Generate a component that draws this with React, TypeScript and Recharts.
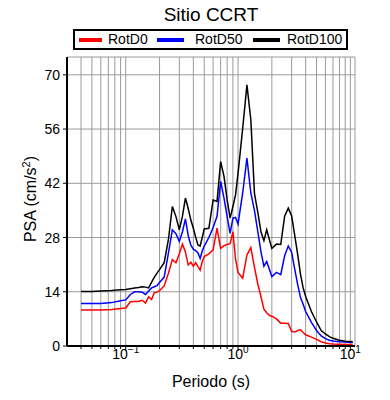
import React from "react";
import { LineChart, Line, XAxis, YAxis, CartesianGrid, Legend } from "recharts";

const FONT = '"Liberation Sans", Arial, Helvetica, sans-serif';

// Periodo (s)
const periods = [
  0.04, 0.05, 0.06, 0.075, 0.09, 0.1, 0.11, 0.12, 0.13, 0.14,
  0.15, 0.16, 0.17, 0.18, 0.19, 0.2, 0.22, 0.24, 0.26, 0.28,
  0.3, 0.32, 0.34, 0.36, 0.38, 0.4, 0.42, 0.44, 0.46, 0.48,
  0.5, 0.55, 0.6, 0.65, 0.7, 0.75, 0.8, 0.85, 0.9, 0.95,
  1.0, 1.1, 1.2, 1.3, 1.4, 1.5, 1.6, 1.7, 1.8, 1.9,
  2.0, 2.2, 2.4, 2.6, 2.8, 3.0, 3.2, 3.4, 3.6, 3.8,
  4.0, 4.5, 5.0, 5.5, 6.0, 6.5, 7.0, 8.0, 9.0, 10.5,
];

// PSA (cm/s2)
const rotD0 = [
  9.3, 9.3, 9.3, 9.4, 9.7, 9.8, 11.4, 11.5, 11.5, 11.8,
  11.1, 12.7, 12.0, 13.8, 13.9, 14.3, 15.5, 18.8, 22.3, 21.5,
  23.8, 26.3, 24.3, 20.9, 21.6, 20.6, 21.5, 20.5, 19.6, 21.8,
  23.1, 23.8, 24.8, 30.4, 25.2, 25.9, 26.2, 26.4, 29.5, 22.5,
  19.0, 17.5, 23.5, 25.4, 20.3, 16.0, 12.7, 9.5, 8.6, 7.9,
  7.7, 7.0, 5.9, 5.9, 5.8, 3.8, 3.6, 4.0, 4.2, 3.5,
  2.9, 2.3, 1.7, 1.1, 0.8, 0.6, 0.5, 0.45, 0.4, 0.4,
];

const rotD50 = [
  11.0, 11.0, 11.0, 11.2, 11.7, 11.9, 13.3, 14.0, 14.0, 13.9,
  13.3, 14.2, 15.0, 15.3, 15.6, 16.4, 17.8, 24.0, 30.0, 29.0,
  27.0, 29.5, 32.8, 28.5, 26.0, 25.0, 24.6, 24.0, 22.6, 24.5,
  25.8, 28.0, 30.6, 33.5, 42.5, 38.2, 33.4, 29.1, 33.0, 33.2,
  31.5, 39.5, 48.5, 39.5, 35.0, 29.5, 24.3, 20.6, 21.8, 19.8,
  17.9, 19.0, 18.4, 23.3, 25.8, 24.2, 19.8, 15.8, 12.5, 10.8,
  8.9, 6.1, 4.0, 2.6, 1.9, 1.5, 1.3, 1.1, 1.0, 0.9,
];

const rotD100 = [
  14.1, 14.1, 14.2, 14.3, 14.5, 14.6, 14.8, 15.0, 15.1, 15.3,
  15.2, 15.0, 16.5, 17.8, 18.8, 19.7, 21.5, 27.5, 36.0, 33.4,
  30.0, 33.5, 38.2, 35.5, 32.5, 30.4, 28.0, 26.1, 25.8, 28.0,
  30.2, 30.4, 37.7, 37.3, 47.6, 43.8, 37.7, 33.0, 36.0, 39.0,
  44.5, 56.2, 67.4, 58.4, 39.4, 34.5, 29.5, 27.2, 30.0, 27.5,
  25.2, 26.3, 26.2, 33.5, 35.6, 33.6, 28.5, 23.5, 18.5, 15.0,
  12.8, 8.9, 6.2, 4.0, 3.1, 2.4, 2.0, 1.5, 1.2, 1.1,
];

const xTicks = [
  0.04, 0.05, 0.06, 0.07, 0.08, 0.09,
  0.1, 0.2, 0.3, 0.4, 0.5, 0.6, 0.7, 0.8, 0.9,
  1, 2, 3, 4, 5, 6, 7, 8, 9, 10,
];
const yTicks = [0, 14, 28, 42, 56, 70];

const seriesKeys = ["rotD0", "rotD50", "rotD100"];
const seriesNames = ["RotD0", "RotD50", "RotD100"];
const seriesColors = ["#ff0000", "#0000ff", "#000000"];

const data = periods.map((p, i) => ({
  period: p,
  rotD0: rotD0[i],
  rotD50: rotD50[i],
  rotD100: rotD100[i],
}));

const isDecade = (v: number) => Math.abs(Math.log10(v) - Math.round(Math.log10(v))) < 1e-6;

function XTick(props: any) {
  const { x, y, payload, top } = props;
  const v = payload.value as number;
  const major = isDecade(v);
  const len = major ? 5 : 3;
  const dir = top ? -1 : 1;
  const exp = Math.round(Math.log10(v));
  return (
    <g>
      <line x1={x} x2={x} y1={y} y2={y + dir * len} stroke="#000" strokeWidth={1} />
      {!top && major && (
        <text x={x} y={y + 13} textAnchor="middle" fontFamily={FONT} fontSize={14} fill="#000">
          10
          <tspan dy={-6} fontSize={10}>
            {exp < 0 ? `\u2212${-exp}` : `${exp}`}
          </tspan>
        </text>
      )}
    </g>
  );
}

function YTick(props: any) {
  const { x, y, payload, right } = props;
  const dir = right ? 1 : -1;
  return (
    <g>
      <line x1={x} x2={x + dir * 4} y1={y} y2={y} stroke="#000" strokeWidth={1} />
      {!right && (
        <text x={x - 7} y={y + 5} textAnchor="end" fontFamily={FONT} fontSize={14} fill="#000">
          {payload.value}
        </text>
      )}
    </g>
  );
}

const swatchLeft = [4, 82, 178];
const swatchWidth = [23, 27, 27];
const textLeft = [33, 120, 212];

function LegendBox() {
  return (
    <div
      style={{
        position: "relative",
        width: 271,
        height: 17,
        border: "2px solid #000",
        background: "#fff",
        fontFamily: FONT,
        fontSize: 14,
        color: "#000",
      }}
    >
      {seriesNames.map((n, i) => (
        <React.Fragment key={n}>
          <span
            style={{
              position: "absolute",
              left: swatchLeft[i],
              top: 7,
              width: swatchWidth[i],
              height: 4,
              background: seriesColors[i],
            }}
          />
          <span style={{ position: "absolute", left: textLeft[i], top: 0, lineHeight: "17px" }}>{n}</span>
        </React.Fragment>
      ))}
    </div>
  );
}

export default function App() {
  const axisLine = { stroke: "#000", strokeWidth: 2 };
  return (
    <div style={{ position: "absolute", left: 0, top: 0, background: "#fff" }}>
      <LineChart width={390} height={400} data={data} margin={{ top: 57, right: 35, bottom: 4, left: 7 }}>
        <CartesianGrid xAxisId="b" yAxisId="l" stroke="#9a9a9a" strokeWidth={1} />
        <XAxis
          xAxisId="b"
          dataKey="period"
          type="number"
          scale="log"
          domain={[0.03, 11]}
          allowDataOverflow
          ticks={xTicks}
          interval={0}
          height={50}
          tickSize={0}
          tickMargin={0}
          tickLine={false}
          axisLine={axisLine}
          tick={(p: any) => <XTick {...p} />}
        />
        <XAxis
          xAxisId="t"
          orientation="top"
          dataKey="period"
          type="number"
          scale="log"
          domain={[0.03, 11]}
          allowDataOverflow
          ticks={xTicks}
          interval={0}
          height={0}
          tickSize={0}
          tickMargin={0}
          tickLine={false}
          axisLine={axisLine}
          tick={(p: any) => <XTick {...p} top />}
        />
        <YAxis
          yAxisId="l"
          type="number"
          domain={[0, 74.6]}
          allowDataOverflow
          ticks={yTicks}
          interval={0}
          width={60}
          tickSize={0}
          tickMargin={0}
          tickLine={false}
          axisLine={axisLine}
          tick={(p: any) => <YTick {...p} />}
        />
        <YAxis
          yAxisId="r"
          orientation="right"
          type="number"
          domain={[0, 74.6]}
          allowDataOverflow
          ticks={yTicks}
          interval={0}
          width={0}
          tickSize={0}
          tickMargin={0}
          tickLine={false}
          axisLine={axisLine}
          tick={(p: any) => <YTick {...p} right />}
        />
        <Legend
          verticalAlign="middle"
          layout="horizontal"
          content={() => <LegendBox />}
          wrapperStyle={{ top: 29, left: 73, width: 275, height: 21 }}
        />
        {seriesKeys.map((k, i) => (
          <Line
            key={k}
            xAxisId="b"
            yAxisId="l"
            type="linear"
            dataKey={k}
            name={seriesNames[i]}
            stroke={seriesColors[i]}
            strokeWidth={1.5}
            dot={false}
            isAnimationActive={false}
          />
        ))}
        <text x={211} y={21} textAnchor="middle" fontFamily={FONT} fontSize={19} fill="#000">
          Sitio CCRT
        </text>
        <text x={211} y={387} textAnchor="middle" fontFamily={FONT} fontSize={16} fill="#000">
          Periodo (s)
        </text>
        <text
          x={36}
          y={199}
          transform="rotate(-90 36 199)"
          textAnchor="middle"
          fontFamily={FONT}
          fontSize={16}
          fill="#000"
        >
          PSA (cm/s
          <tspan dy={-6} fontSize={11}>2</tspan>
          <tspan dy={6}>)</tspan>
        </text>
      </LineChart>
    </div>
  );
}
